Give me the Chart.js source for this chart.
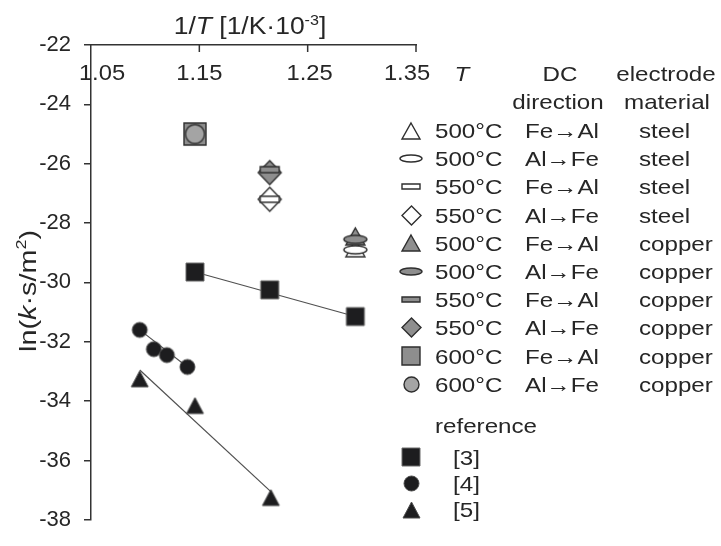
<!DOCTYPE html>
<html>
<head>
<meta charset="utf-8">
<script src="https://cdn.jsdelivr.net/npm/chart.js@4.4.1/dist/chart.umd.min.js"></script>
<style>
  html, body { margin: 0; padding: 0; background: #fff; }
  #wrap { width: 721px; height: 546px; }
</style>
</head>
<body>
<div id="wrap"><canvas id="chart" width="721" height="546"></canvas></div>
<script>
// Own measurements: one row per series in the legend
const temps = ['500°C', '500°C', '550°C', '550°C', '500°C', '500°C', '550°C', '550°C', '600°C', '600°C'];
const directions = ['Fe→Al', 'Al→Fe', 'Fe→Al', 'Al→Fe', 'Fe→Al', 'Al→Fe', 'Fe→Al', 'Al→Fe', 'Fe→Al', 'Al→Fe'];
const electrodes = ['steel', 'steel', 'steel', 'steel', 'copper', 'copper', 'copper', 'copper', 'copper', 'copper'];
const invT = [1.294, 1.294, 1.215, 1.215, 1.294, 1.294, 1.215, 1.215, 1.146, 1.146];
const lnK = [-28.85, -28.9, -27.2, -27.2, -28.45, -28.55, -26.2, -26.3, -25.0, -25.0];

// Literature data
const refNames = ['[3]', '[4]', '[5]'];
const ref3X = [1.146, 1.215, 1.294];
const ref3Y = [-29.65, -30.25, -31.15];
const ref4X = [1.095, 1.108, 1.120, 1.139];
const ref4Y = [-31.6, -32.25, -32.45, -32.85];
const ref5X = [1.095, 1.146, 1.216];
const ref5Y = [-33.25, -34.15, -37.25];

// fitted lines as drawn in the figure (end points)
const fit3X = [1.146, 1.294];
const fit3Y = [-29.65, -31.15];
const fit4X = [1.095, 1.139];
const fit4Y = [-31.6, -32.85];
const fit5X = [1.095, 1.216];
const fit5Y = [-32.95, -37.05];

// axis ticks
const xTickValues = [1.05, 1.15, 1.25, 1.35];
const yTickValues = [-38, -36, -34, -32, -30, -28, -26, -24, -22];

// ---- styling ----
const FONT = '"Liberation Sans", Arial, sans-serif';
const textColor = '#262626';
const axisColor = '#333333';
const grayFill = '#8e8e8e';
const seriesShapes = ['triangle', 'ellipse', 'bar', 'diamond', 'triangle', 'ellipse', 'bar', 'diamond', 'square', 'circle'];
const shapeSize = { triangle: [19, 17], ellipse: [23, 8], bar: [19, 6], diamond: [23, 24], square: [22, 22], circle: [19, 19] };
const legendSize = { triangle: [18, 16], ellipse: [22, 7], bar: [18, 5], diamond: [19, 19], square: [18, 18], circle: [15, 15] };
const drawLayer = [0, 1, 3, 2, 4, 5, 7, 6, 8, 9]; // bottom to top
const xTickNudge = [11, 0, 2, -9];
const STRETCH = 1.15;

function makeMarker(shape, w, h, fill, stroke, lw) {
    const pad = 3;
    const c = document.createElement('canvas');
    c.width = w + pad * 2;
    c.height = h + pad * 2;
    const g = c.getContext('2d');
    g.translate(pad, pad);
    g.beginPath();
    if (shape === 'triangle') {
        g.moveTo(w / 2, 0); g.lineTo(w, h); g.lineTo(0, h); g.closePath();
    } else if (shape === 'diamond') {
        g.moveTo(w / 2, 0); g.lineTo(w, h / 2); g.lineTo(w / 2, h); g.lineTo(0, h / 2); g.closePath();
    } else if (shape === 'ellipse' || shape === 'circle') {
        g.ellipse(w / 2, h / 2, w / 2, h / 2, 0, 0, Math.PI * 2);
    } else {
        g.rect(0, 0, w, h);
    }
    g.fillStyle = fill;
    g.fill();
    if (lw > 0) {
        g.lineJoin = 'miter';
        g.lineWidth = lw;
        g.strokeStyle = stroke;
        g.stroke();
    }
    return c;
}

function seriesFill(i) {
    if (electrodes[i] === 'steel') return '#ffffff';
    return seriesShapes[i] === 'circle' ? '#a4a4a4' : grayFill;
}
const seriesMarkers = seriesShapes.map((shape, i) => {
    const [w, h] = shapeSize[shape];
    return makeMarker(shape, w, h, seriesFill(i), '#2e2e2e', 1.4);
});
const legendMarkers = seriesShapes.map((shape, i) => {
    const [w, h] = legendSize[shape];
    return makeMarker(shape, w, h, seriesFill(i), '#2e2e2e', 1.4);
});
const refMarkers = [
    makeMarker('square', 18, 18, '#1d1d1f', '#6b6b6b', 1),
    makeMarker('circle', 15, 15, '#1d1d1f', '#4b4b4b', 1),
    makeMarker('triangle', 17, 16, '#1d1d1f', '#4b4b4b', 1)
];

const toPoints = (xs, ys) => xs.map((x, i) => ({ x: x, y: ys[i] }));

// dataset list, bottom layer first
const layers = [];
[[fit3X, fit3Y], [fit4X, fit4Y], [fit5X, fit5Y]].forEach(([xs, ys]) => {
    layers.push({
        data: toPoints(xs, ys),
        showLine: true,
        borderColor: '#505050',
        borderWidth: 1.2,
        pointRadius: 0
    });
});
[[ref3X, ref3Y], [ref4X, ref4Y], [ref5X, ref5Y]].forEach(([xs, ys], i) => {
    layers.push({
        label: refNames[i],
        data: toPoints(xs, ys),
        pointStyle: refMarkers[i],
        pointRadius: 5
    });
});
drawLayer.forEach(i => {
    layers.push({
        label: temps[i] + ' ' + directions[i] + ' ' + electrodes[i],
        data: [{ x: invT[i], y: lnK[i] }],
        pointStyle: seriesMarkers[i],
        pointRadius: 5
    });
});
// Chart.js draws lower `order` on top
layers.forEach((ds, i) => { ds.order = layers.length - i; });

// text made of runs (italic / superscript parts), slightly widened like the original
function drawRuns(ctx, runs, x, y, size, align, stretch) {
    const fontFor = r => (r.italic ? 'italic ' : '') + (r.sup ? Math.round(size * 0.62) : size) + 'px ' + FONT;
    let total = 0;
    runs.forEach(r => { ctx.font = fontFor(r); total += ctx.measureText(r.t).width; });
    ctx.save();
    ctx.translate(x, y);
    ctx.scale(stretch, 1);
    let cx = align === 'center' ? -total / 2 : (align === 'right' ? -total : 0);
    ctx.textAlign = 'left';
    ctx.textBaseline = 'alphabetic';
    ctx.fillStyle = textColor;
    runs.forEach(r => {
        ctx.font = fontFor(r);
        ctx.fillText(r.t, cx, r.sup ? -size * 0.4 : 0);
        cx += ctx.measureText(r.t).width;
    });
    ctx.restore();
}

const figureText = {
    id: 'figureText',
    afterDraw(chart) {
        const ctx = chart.ctx;
        const xs = chart.scales.x;
        const area = chart.chartArea;
        ctx.save();

        // inward tick marks on the top axis
        ctx.strokeStyle = axisColor;
        ctx.lineWidth = 1.5;
        xTickValues.slice(1).forEach(v => {
            const px = xs.getPixelForValue(v);
            ctx.beginPath();
            ctx.moveTo(px, area.top);
            ctx.lineTo(px, area.top + 7);
            ctx.stroke();
        });

        // top axis labels, below the line
        xTickValues.forEach((v, i) => {
            drawRuns(ctx, [{ t: v.toFixed(2) }], xs.getPixelForValue(v) + xTickNudge[i], 80, 22, 'center', 1.08);
        });

        // axis titles
        drawRuns(ctx, [{ t: '1/' }, { t: 'T', italic: true }, { t: ' [1/K·10' }, { t: '-3', sup: true }, { t: ']' }],
            250, 34, 23, 'center', STRETCH);
        ctx.save();
        ctx.translate(36, 291);
        ctx.rotate(-Math.PI / 2);
        drawRuns(ctx, [{ t: 'ln(' }, { t: 'k', italic: true }, { t: '·s/m' }, { t: '2', sup: true }, { t: ')' }],
            0, 0, 24, 'center', 1.2);
        ctx.restore();

        // legend table
        const markerX = 411;
        drawRuns(ctx, [{ t: 'T', italic: true }], 462, 81, 21, 'center', STRETCH);
        drawRuns(ctx, [{ t: 'DC' }], 560, 81, 21, 'center', STRETCH);
        drawRuns(ctx, [{ t: 'electrode' }], 666, 81, 21, 'center', STRETCH);
        drawRuns(ctx, [{ t: 'direction' }], 558, 109, 21, 'center', STRETCH);
        drawRuns(ctx, [{ t: 'material' }], 667, 109, 21, 'center', STRETCH);
        temps.forEach((t, i) => {
            const cy = 130.5 + i * 28.2;
            const img = legendMarkers[i];
            ctx.drawImage(img, Math.round(markerX - img.width / 2), Math.round(cy - img.height / 2));
            drawRuns(ctx, [{ t: t }], 435, cy + 7.5, 21, 'left', STRETCH);
            drawRuns(ctx, [{ t: directions[i] }], 562, cy + 7.5, 21, 'center', STRETCH);
            drawRuns(ctx, [{ t: electrodes[i] }], 639, cy + 7.5, 21, 'left', STRETCH);
        });
        drawRuns(ctx, [{ t: 'reference' }], 435, 432.5, 21, 'left', STRETCH);
        refNames.forEach((name, i) => {
            const cy = 457 + i * 26.3;
            const img = refMarkers[i];
            ctx.drawImage(img, Math.round(markerX - img.width / 2), Math.round(cy - img.height / 2));
            drawRuns(ctx, [{ t: name }], 453, cy + 7.5, 21, 'left', STRETCH);
        });
        ctx.restore();
    }
};

new Chart(document.getElementById('chart'), {
    type: 'scatter',
    data: { datasets: layers },
    options: {
        responsive: false,
        animation: false,
        events: [],
        layout: { padding: { top: 0, left: 0, right: 305, bottom: 13 } },
        plugins: {
            legend: { display: false },
            tooltip: { enabled: false }
        },
        scales: {
            x: {
                type: 'linear',
                position: 'top',
                min: 1.05,
                max: 1.35,
                grid: { display: false },
                border: { display: true, color: axisColor, width: 1.5 },
                ticks: { display: false },
                afterFit: s => { s.height = 45; }
            },
            y: {
                type: 'linear',
                position: 'left',
                min: -38,
                max: -22,
                afterBuildTicks: s => { s.ticks = yTickValues.map(v => ({ value: v })); },
                grid: { display: true, drawOnChartArea: false, drawTicks: true, tickLength: 7, color: axisColor, lineWidth: 1.5 },
                border: { display: true, color: axisColor, width: 1.5 },
                ticks: { color: textColor, padding: 13, font: { family: FONT, size: 22 } },
                afterFit: s => { s.width = 91; }
            }
        }
    },
    plugins: [figureText]
});
</script>
</body>
</html>
